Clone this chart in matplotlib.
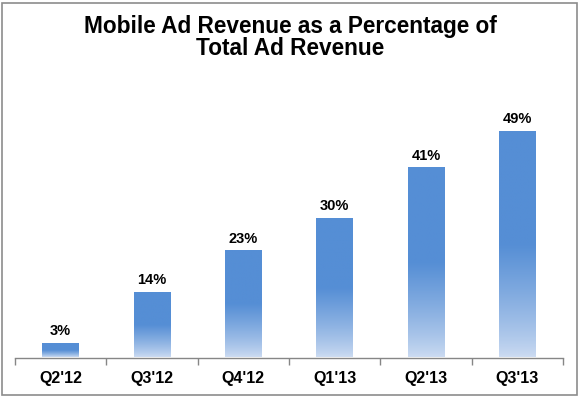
import numpy as np
import matplotlib.pyplot as plt
from matplotlib.colors import to_rgb
from matplotlib.patches import Rectangle

# Data
quarters = ["Q2'12", "Q3'12", "Q4'12", "Q1'13", "Q2'13", "Q3'13"]
mobile_share = [3, 14, 23, 30, 41, 49]
title_lines = ["Mobile Ad Revenue as a Percentage of", "Total Ad Revenue"]

plt.rcParams['font.family'] = ['Liberation Sans', 'DejaVu Sans']

W, H = 580, 397
fig = plt.figure(figsize=(W / 100, H / 100), dpi=100)
ax = fig.add_axes([15 / W, 39.5 / H, 548 / W, 272 / H])

# outer frame round the whole picture
fig.patches.append(Rectangle((2 / W, 2 / H), 575 / W, 392 / H,
                             transform=fig.transFigure, fill=False,
                             edgecolor='#8c8c8c', linewidth=1.2))

# vertical gradient: solid blue over top half, fading to pale at the base
top_col = np.array(to_rgb('#558ed5'))
low_col = np.array(to_rgb('#cddcf2'))
t = np.linspace(0, 1, 200)
mix = np.clip(t / 0.5, 0, 1) ** 0.8
grad = low_col[None, :] * (1 - mix[:, None]) + top_col[None, :] * mix[:, None]
grad = grad[:, None, :]

width = 0.405
x = np.arange(len(quarters))
for xi, val in zip(x, mobile_share):
    ax.imshow(grad, extent=(xi - width / 2, xi + width / 2, 0, val),
              origin='lower', aspect='auto', interpolation='bilinear', zorder=2)
    ax.text(xi, val + 1.9, f"{val}%", ha='center', va='baseline',
            fontsize=10.5, fontweight='bold', color='black')

ax.set_xlim(-0.5, len(quarters) - 0.5)
ax.set_ylim(0, 59)

ax.set_xticks(x)
ax.set_xticklabels(quarters, fontsize=11.5, fontweight='bold')
ax.set_xticks(np.arange(-0.5, len(quarters)), minor=True)
ax.tick_params(axis='x', which='major', length=0, pad=9.5)
ax.tick_params(axis='x', which='minor', length=5, color='#868686', width=1)
ax.set_yticks([])

for side in ['top', 'right', 'left']:
    ax.spines[side].set_visible(False)
ax.spines['bottom'].set_color('#868686')
ax.spines['bottom'].set_linewidth(1)

# two-line title, placed by baseline
for line, base in zip(title_lines, [32.5, 55]):
    fig.text(0.5, 1 - base / H, line, ha='center', va='baseline',
             fontsize=16.3, fontweight='bold')

fig.savefig("out.png", dpi=100)
